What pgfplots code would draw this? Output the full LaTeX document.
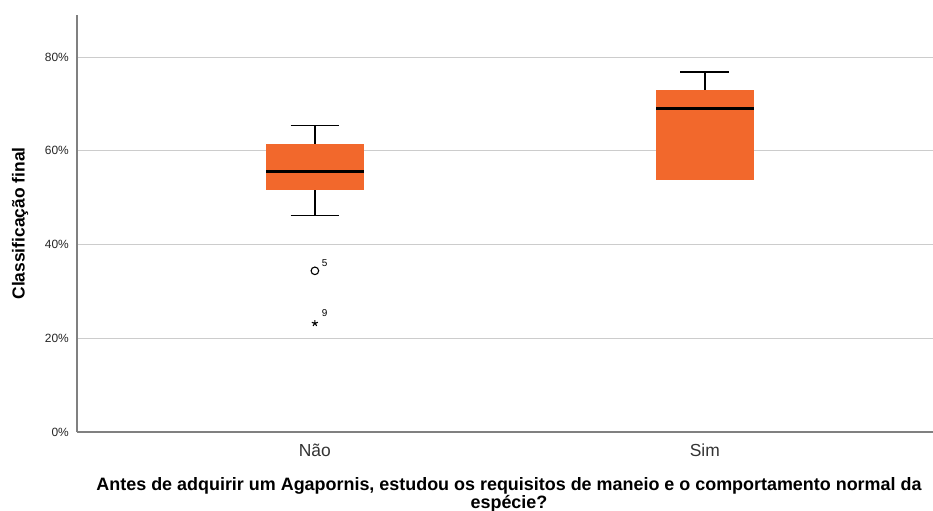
\documentclass[border=0pt]{standalone}
\usepackage{fontspec}
\setmainfont{Liberation Sans}
\usepackage{pgfplots}
\pgfplotsset{compat=1.18}
\usepgfplotslibrary{statistics}
\definecolor{boxor}{HTML}{F2682C}
\begin{document}
\begin{tikzpicture}
\path[use as bounding box] (-77bp,-79bp) rectangle (856bp,432bp);
\begin{axis}[
  at={(0,0)}, anchor=south west, scale only axis,
  width=856bp, height=417bp,
  xmin=0.39, xmax=2.585, ymin=0, ymax=89,
  boxplot/draw direction=y,
  axis x line*=bottom, axis y line*=left,
  axis line style={draw=black!50, line width=1.2bp, -},
  xtick={1,2}, xticklabels={Não,Sim},
  ytick={0,20,40,60,80},
  /pgf/number format/assume math mode=true,
  yticklabel={\pgfmathprintnumber{\tick}\%},
  major tick length=0pt,
  ymajorgrids, grid style={draw=black!20, line width=1.2bp},
  yticklabel style={font=\fontsize{12}{14}\selectfont, text=black!85, anchor=east, inner sep=0pt, xshift=-8bp},
  xticklabel style={font=\fontsize{17.5}{20}\selectfont, text=black!80, anchor=base, inner sep=0pt, yshift=-24bp},
  ylabel={Classificação final},
  ylabel style={font=\bfseries\fontsize{17.5}{20}\selectfont, at={(rel axis cs:0,0.5)}, anchor=center, inner sep=0pt, yshift=57bp},
  xlabel={Antes de adquirir um Agapornis, estudou os requisitos de maneio e o comportamento normal da\\espécie?},
  xlabel style={font=\bfseries\fontsize{18}{15.5}\selectfont, align=center, at={(rel axis cs:0.5,0)}, anchor=north, inner sep=0pt, yshift=-45bp, xshift=4bp},
  boxplot/every box/.style={draw=boxor, fill=boxor},
  boxplot/every median/.style={draw=black, line width=3bp},
  boxplot/every whisker/.style={draw=black, line width=1.6bp},
]
\addplot[boxplot prepared={median=55.7, upper quartile=61.4, lower quartile=51.9,
   upper whisker=65.4, lower whisker=46.2, draw position=1, box extend=0.25, whisker extend=0.125}]
   coordinates {};
\addplot[boxplot prepared={median=69.0, upper quartile=72.9, lower quartile=54.0,
   upper whisker=76.8, lower whisker=53.9, draw position=2, box extend=0.25, whisker extend=0.125}]
   coordinates {};
\addplot[only marks, mark=o, mark size=3.8bp, black, line width=1.1bp,
   nodes near coords, point meta=explicit symbolic,
   nodes near coords style={anchor=base west, font=\fontsize{10}{11}\selectfont, inner sep=0pt, xshift=6.5bp, yshift=4.7bp}]
   coordinates {(1,34.4) [5]};
\addplot[only marks, mark=star, mark size=3.2bp, black, line width=1.1bp,
   nodes near coords, point meta=explicit symbolic,
   nodes near coords style={anchor=base west, font=\fontsize{10}{11}\selectfont, inner sep=0pt, xshift=6.5bp, yshift=6.6bp}]
   coordinates {(1,23.2) [9]};
\end{axis}
\end{tikzpicture}
\end{document}
